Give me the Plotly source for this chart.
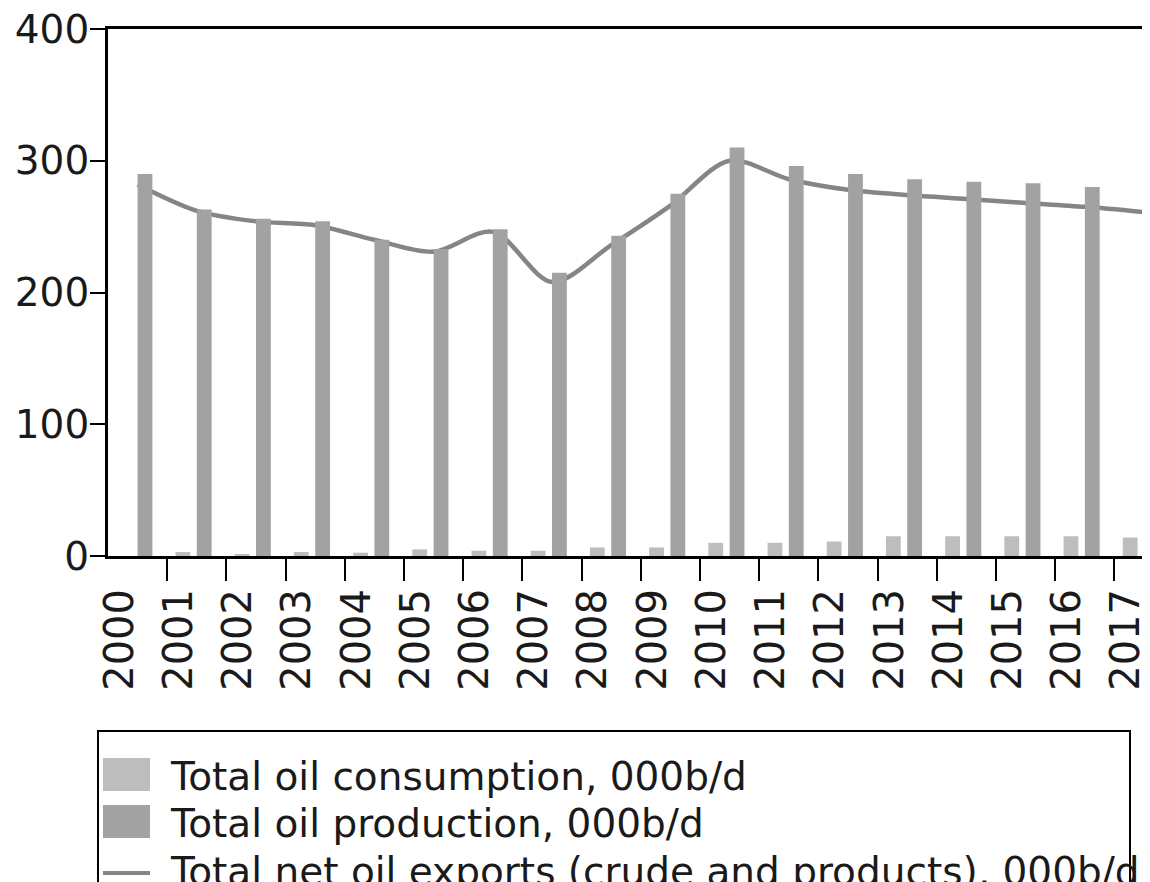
import plotly.graph_objects as go

# data -------------------------------------------------------------
years = list(range(2000, 2018))
consumption = [0, 3, 1, 3, 2.5, 5, 4, 4, 6.5, 6.5, 10, 10, 11, 15, 15, 15, 15, 14]
production = [290, 263, 256, 254, 240, 233, 248, 215, 243, 275, 310, 296, 290, 286, 284, 283, 280, 277]
net_exports = [282, 262, 254, 251, 240, 231, 246, 208, 236, 266, 300, 286, 278, 274, 271, 268, 265, 261]
y_ticks = [0, 100, 200, 300, 400]

legend_names = [
    "Total oil consumption, 000b/d",
    "Total oil production, 000b/d",
    "Total net oil exports (crude and products), 000b/d",
]

# the page body has an 8px margin, so the figure is 8px smaller than the window
OFF = 8
W, H = 1150 - OFF, 882 - OFF
M_L, M_R, M_T, M_B = 108 - OFF, 0, 29 - OFF, 882 - 556
FONT = dict(family="DejaVu Sans", size=40, color="#1a1a1a")

C_CONS = "#bdbdbd"
C_PROD = "#a2a2a2"
C_LINE = "#858585"


def px_x(px):
    """screen column -> paper x"""
    return (px - OFF - M_L) / (W - M_L - M_R)


def px_y(py):
    """screen row -> paper y"""
    return (H - M_B - (py - OFF)) / (H - M_T - M_B)


fig = go.Figure()

# line sits behind the bars in the original, so bars go on an overlaid axis
fig.add_trace(go.Scatter(
    x=years, y=net_exports, mode="lines", name=legend_names[2],
    line=dict(color=C_LINE, width=4.5, shape="spline", smoothing=0.9),
    showlegend=False,
))
fig.add_trace(go.Bar(
    x=years, y=consumption, name=legend_names[0], yaxis="y2",
    width=0.25, offset=-0.36, marker=dict(color=C_CONS, line=dict(width=0)),
    showlegend=False,
))
fig.add_trace(go.Bar(
    x=years, y=production, name=legend_names[1], yaxis="y2",
    width=0.25, offset=0.0, marker=dict(color=C_PROD, line=dict(width=0)),
    showlegend=False,
))

# hand-drawn legend box (big swatches like the scan) -------------------
shapes = [dict(type="rect", xref="paper", yref="paper",
               x0=px_x(98), x1=px_x(1130), y0=px_y(731), y1=px_y(920),
               line=dict(color="black", width=2), fillcolor="rgba(0,0,0,0)", layer="above")]
annotations = []
row_y = [776, 823, 871]
for i, name in enumerate(legend_names):
    if i < 2:
        shapes.append(dict(type="rect", xref="paper", yref="paper",
                           x0=px_x(103), x1=px_x(150), y0=px_y(row_y[i] - 18), y1=px_y(row_y[i] + 15),
                           line=dict(width=0), fillcolor=[C_CONS, C_PROD][i]))
    else:
        shapes.append(dict(type="line", xref="paper", yref="paper",
                           x0=px_x(103), x1=px_x(150), y0=px_y(row_y[i] + 2), y1=px_y(row_y[i] + 2),
                           line=dict(color=C_LINE, width=4)))
    annotations.append(dict(xref="paper", yref="paper", x=px_x(168), y=px_y(row_y[i]),
                            text=name, showarrow=False, xanchor="left", yanchor="middle",
                            font=dict(FONT, size=39)))

fig.update_layout(
    width=W, height=H,
    margin=dict(l=M_L, r=M_R, t=M_T, b=M_B, autoexpand=False),
    paper_bgcolor="white", plot_bgcolor="white",
    font=FONT,
    barmode="overlay",
    showlegend=False,
    shapes=shapes,
    annotations=annotations,
    xaxis=dict(
        range=[1999.5, 2017.1],
        tickmode="array",
        tickvals=[y - 0.3 for y in years],
        ticktext=[str(y) for y in years],
        tickangle=-90,
        ticks="",
        ticklabelstandoff=14,
        ticklabeloverflow="allow",
        minor=dict(tickmode="array", tickvals=[y + 0.5 for y in years],
                   ticks="outside", ticklen=22, tickwidth=2, tickcolor="black"),
        showline=True, linecolor="black", linewidth=3, mirror=True,
        showgrid=False, zeroline=False,
    ),
    yaxis=dict(
        range=[0, 400],
        tickmode="array",
        tickvals=y_ticks,
        ticks="outside", ticklen=15, tickwidth=2, tickcolor="black",
        ticklabelstandoff=-7,
        ticklabeloverflow="allow",
        tickfont=dict(size=39),
        showline=True, linecolor="black", linewidth=3,
        showgrid=False, zeroline=False,
    ),
    yaxis2=dict(
        range=[0, 400], overlaying="y", visible=False,
        showgrid=False, zeroline=False,
    ),
)

fig.write_html("out.html")
